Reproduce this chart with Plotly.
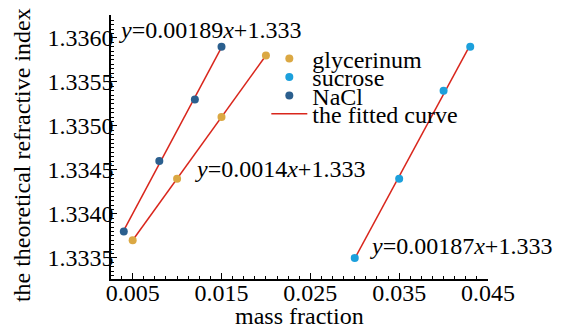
import numpy as np
import plotly.graph_objects as go

# data
gly_x = [0.005, 0.010, 0.015, 0.020]
gly_y = [1.3337, 1.3344, 1.3351, 1.3358]
suc_x = [0.030, 0.035, 0.040, 0.043]
suc_y = [1.3335, 1.3344, 1.3354, 1.3359]
nacl_x = [0.004, 0.008, 0.012, 0.015]
nacl_y = [1.3338, 1.3346, 1.3353, 1.3359]
x_ticks = [0.005, 0.015, 0.025, 0.035, 0.045]
y_ticks = [1.3335, 1.3340, 1.3345, 1.3350, 1.3355, 1.3360]
eq_texts = ["<i>y</i>=0.00189<i>x</i>+1.333", "<i>y</i>=0.0014<i>x</i>+1.333", "<i>y</i>=0.00187<i>x</i>+1.333"]
x_title = "mass fraction"
y_title = "the theoretical refractive index"

FONT = "'Liberation Serif', 'Times New Roman', Times, serif"
FS = 24
RED = "#d9261c"
fig = go.Figure()

def fit(xs, ys):
    k, b = np.polyfit(xs, ys, 1)
    xx = np.array([min(xs), max(xs)])
    return xx, k * xx + b

for xs, ys in [(nacl_x, nacl_y), (gly_x, gly_y), (suc_x, suc_y)]:
    fx, fy = fit(xs, ys)
    fig.add_trace(go.Scatter(x=fx, y=fy, mode="lines", line=dict(color=RED, width=1.5),
                             showlegend=False, hoverinfo="skip"))

fig.add_trace(go.Scatter(x=gly_x, y=gly_y, mode="markers", name="glycerinum",
                         marker=dict(color="#dba843", size=8), legend="legend"))
fig.add_trace(go.Scatter(x=suc_x, y=suc_y, mode="markers", name="sucrose",
                         marker=dict(color="#1ca0dc", size=8), legend="legend2"))
fig.add_trace(go.Scatter(x=nacl_x, y=nacl_y, mode="markers", name="NaCl",
                         marker=dict(color="#2b5f8e", size=8), legend="legend3"))
fig.add_trace(go.Scatter(x=[None], y=[None], mode="lines", name="the fitted curve",
                         line=dict(color=RED, width=1.5), legend="legend4"))

def leg(y):
    return dict(x=0.412, y=y, xanchor="left", yanchor="middle", bgcolor="rgba(0,0,0,0)",
                borderwidth=0, itemwidth=36, font=dict(family=FONT, size=FS, color="black"))

axis_common = dict(showline=True, linecolor="black", linewidth=1.5, ticks="inside",
                   ticklen=6, tickwidth=1.2, tickcolor="black", showgrid=False, zeroline=False,
                   tickfont=dict(family=FONT, size=FS, color="black"), mirror=False,
                   automargin=False)

fig.update_layout(
    width=561, height=329, margin=dict(l=111, r=72.5, t=15, b=50),
    paper_bgcolor="white", plot_bgcolor="white",
    font=dict(family=FONT, size=FS, color="black"),
    legend=leg(0.834), legend2=leg(0.764), legend3=leg(0.694), legend4=leg(0.624),
    xaxis=dict(range=[0.00256, 0.045], tickvals=x_ticks, tickformat=".3f",
               minor=dict(dtick=0.00125, tick0=0.005, ticks="inside", ticklen=3, tickcolor="black"),
               ticklabelstandoff=-9, **axis_common),
    yaxis=dict(range=[1.33326, 1.33626], tickvals=y_ticks, tickformat=".4f",
               minor=dict(dtick=0.00005, tick0=1.3335, ticks="inside", ticklen=3, tickcolor="black"),
               ticklabelstandoff=-9, **axis_common),
)

# axis titles
fig.add_annotation(x=(300 - 111) / 377.5, y=-37 / 264, xref="paper", yref="paper", text=x_title,
                   showarrow=False, xanchor="center", yanchor="middle",
                   font=dict(family=FONT, size=FS, color="black"))
fig.add_annotation(x=-89 / 377.5, y=(279 - 155) / 264, xref="paper", yref="paper", text=y_title,
                   showarrow=False, textangle=-90, xanchor="center", yanchor="middle",
                   font=dict(family=FONT, size=FS, color="black"))

ann_pos = [(0.016, 0.943), (0.218, 0.417), (0.682, 0.125)]
for t, (ax, ay) in zip(eq_texts, ann_pos):
    fig.add_annotation(x=ax, y=ay, xref="paper", yref="paper", text=t, showarrow=False,
                       xanchor="left", yanchor="middle", font=dict(family=FONT, size=FS, color="black"))

fig.write_html("out.html")
